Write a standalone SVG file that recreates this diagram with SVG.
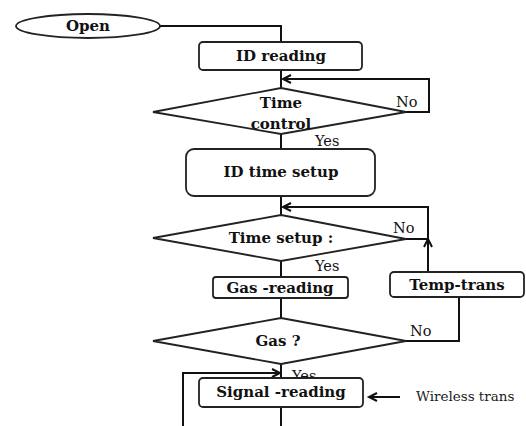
<svg xmlns="http://www.w3.org/2000/svg" width="526" height="426" viewBox="0 0 526 426">
<defs>
<marker id="arr" markerUnits="userSpaceOnUse" markerWidth="12" markerHeight="12" refX="9" refY="5" orient="auto" viewBox="0 0 12 10">
<path d="M1,1 L9,5 L1,9" fill="none" stroke="#111" stroke-width="2"/>
</marker>
<style>
.sh{fill:#fff;stroke:#222;stroke-width:1.8}
.ln{fill:none;stroke:#111;stroke-width:2}
.b{font-family:"DejaVu Serif","Liberation Serif",serif;font-weight:bold;font-size:15px;fill:#111;text-anchor:middle}
.n{font-family:"DejaVu Serif","Liberation Serif",serif;font-size:14.5px;fill:#111}
.w{font-family:"DejaVu Serif","Liberation Serif",serif;font-size:13.5px;fill:#222}
</style>
</defs>
<rect width="526" height="426" fill="#fff"/>
<g id="connectors">
<polyline class="ln" points="160,26 281,26 281,42"/>
<line class="ln" x1="281" y1="70" x2="281" y2="88"/>
<polyline class="ln" points="406,112 429,112 429,79 283,79" marker-end="url(#arr)"/>
<line class="ln" x1="281" y1="134" x2="281" y2="149"/>
<line class="ln" x1="281" y1="196" x2="281" y2="215"/>
<line class="ln" x1="406" y1="239" x2="428" y2="239"/>
<line class="ln" x1="428" y1="272" x2="428" y2="239" marker-end="url(#arr)"/>
<polyline class="ln" points="428,240 428,207 283,207" marker-end="url(#arr)"/>
<line class="ln" x1="281" y1="261" x2="281" y2="277"/>
<line class="ln" x1="281" y1="298" x2="281" y2="318"/>
<polyline class="ln" points="406,341 459,341 459,297"/>
<line class="ln" x1="281" y1="364" x2="281" y2="378"/>
<polyline class="ln" points="281,407 281,432 183,432 183,373 280,373" marker-end="url(#arr)"/>
<line class="ln" x1="400" y1="397" x2="369" y2="397" marker-end="url(#arr)"/>
</g>
<g id="open">
<ellipse class="sh" cx="88" cy="26" rx="72" ry="12"/>
<text class="b" x="88" y="31">Open</text>
</g>
<g id="id-reading">
<rect class="sh" x="199" y="42" width="163" height="28" rx="4"/>
<text class="b" x="281" y="61">ID reading</text>
</g>
<g id="time-control">
<polygon class="sh" points="281,88 406,112 281,134 153,112"/>
<text class="b" x="281" y="108">Time</text>
<text class="b" x="281" y="129">control</text>
<text class="n" x="396" y="107">No</text>
<text class="n" x="315" y="146">Yes</text>
</g>
<g id="id-time-setup">
<rect class="sh" x="186" y="149" width="189" height="47" rx="8"/>
<text class="b" x="281" y="177">ID time setup</text>
</g>
<g id="time-setup">
<polygon class="sh" points="281,215 406,239 281,261 153,238"/>
<text class="b" x="281" y="243">Time setup :</text>
<text class="n" x="393" y="233">No</text>
<text class="n" x="315" y="271">Yes</text>
</g>
<g id="gas-reading">
<rect class="sh" x="213" y="277" width="135" height="21" rx="3"/>
<text class="b" x="280" y="293">Gas -reading</text>
</g>
<g id="temp-trans">
<rect class="sh" x="390" y="272" width="134" height="25" rx="4"/>
<text class="b" x="457" y="290">Temp-trans</text>
</g>
<g id="gas">
<polygon class="sh" points="281,318 406,341 281,364 153,341"/>
<text class="b" x="278" y="346">Gas ?</text>
<text class="n" x="410" y="336">No</text>
<text class="n" x="292" y="381">Yes</text>
</g>
<g id="signal-reading">
<rect class="sh" x="199" y="378" width="164" height="29" rx="4"/>
<text class="b" x="281" y="397">Signal -reading</text>
</g>
<g id="wireless">
<text class="w" x="416" y="401">Wireless trans</text>
</g>
</svg>
